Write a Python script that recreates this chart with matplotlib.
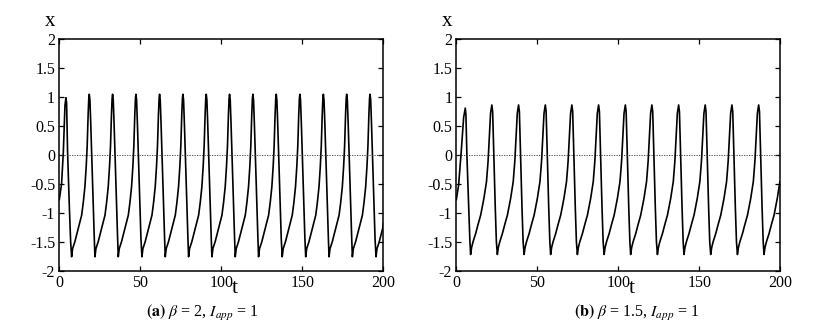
import matplotlib

matplotlib.use("Agg")

import matplotlib.pyplot as plt
import numpy as np

# panel (a): beta = 2
a_start_t = [0.0, 1.4, 2.5, 3.5, 4.1, 4.5, 5.1, 6.2, 7.0]
a_start_x = [-0.77, -0.50, 0.06, 0.86, 0.99, 0.90, 0.06, -0.90, -1.50]
a_trough_t = [7.6, 22.0, 36.4, 51.0, 65.4, 79.8, 94.2, 108.6, 123.0, 137.6, 152.1, 166.5, 180.9, 195.5]
a_cycle_dt = [0.0, 0.6, 2.0, 4.1, 6.2, 7.2, 8.2, 9.0, 9.6, 10.2, 10.6, 10.9, 11.3, 11.8, 12.4, 13.4, 14.0]
a_cycle_x = [-1.76, -1.62, -1.50, -1.27, -1.04, -0.82, -0.55, -0.20, 0.15, 0.70, 0.98, 1.05, 0.95, 0.55, 0.0, -0.90, -1.45]
a_end = (200.0, -1.18)

# panel (b): beta = 1.5
b_start_t = [0.0, 1.4, 3.0, 4.5, 5.5, 5.9, 6.5, 7.6, 8.3]
b_start_x = [-0.77, -0.52, 0.06, 0.65, 0.81, 0.70, 0.0, -0.90, -1.45]
b_trough_t = [8.8, 25.3, 41.8, 58.2, 74.7, 91.2, 107.6, 124.1, 140.5, 157.0, 173.5, 189.9]
b_cycle_dt = [0.0, 0.6, 1.5, 3.1, 4.6, 6.2, 8.2, 9.8, 10.8, 11.6, 12.3, 13.1, 13.6, 14.3, 15.2, 15.9]
b_cycle_x = [-1.72, -1.60, -1.50, -1.36, -1.20, -1.04, -0.75, -0.46, -0.10, 0.35, 0.72, 0.865, 0.75, 0.0, -0.90, -1.50]
b_end = (200.0, -0.49)

x_ticks = [0, 50, 100, 150, 200]
y_ticks = [-2, -1.5, -1, -0.5, 0, 0.5, 1, 1.5, 2]
captions = [r"$\mathbf{(a)}$ $\beta$ = 2, $I_{app}$ = 1", r"$\mathbf{(b)}$ $\beta$ = 1.5, $I_{app}$ = 1"]


def build_trace(start_t, start_x, troughs, cyc_dt, cyc_x, end):
    t = list(start_t)
    x = list(start_x)
    for t0 in troughs:
        for dt, v in zip(cyc_dt, cyc_x):
            if t0 + dt < end[0]:
                t.append(t0 + dt)
                x.append(v)
    t.append(end[0])
    x.append(end[1])
    return np.array(t), np.array(x)


def style_panel(ax, t, x):
    ax.plot(t, x, color="black", lw=1.2)
    ax.axhline(0, color="#333333", lw=0.6, ls=(0, (1.5, 1.5)))
    ax.set_xlim(0, 200)
    ax.set_ylim(-2, 2)
    ax.set_xticks(x_ticks)
    ax.set_yticks(y_ticks)
    ax.set_yticklabels([f"{v:g}" for v in y_ticks])
    ax.tick_params(direction="in", length=3.5, width=0.9, top=True, right=True, labelsize=11.5, pad=3)
    for s in ax.spines.values():
        s.set_linewidth(1.1)
    ax.text(0.542, -0.078, "t", transform=ax.transAxes, ha="center", va="center", fontsize=16)
    ax.text(-0.03, 1.075, "x", transform=ax.transAxes, ha="center", va="center", fontsize=15)


plt.rcParams.update(
    {
        "font.family": ["Liberation Serif", "DejaVu Serif"],
        "mathtext.fontset": "stix",
        "axes.unicode_minus": False,
    }
)

fig = plt.figure(figsize=(8.18, 3.33), dpi=100)
ax_a = fig.add_axes([0.0725, 0.1872, 0.3961, 0.6947])
ax_b = fig.add_axes([0.5579, 0.1872, 0.3961, 0.6947])

ta, xa = build_trace(a_start_t, a_start_x, a_trough_t, a_cycle_dt, a_cycle_x, a_end)
tb, xb = build_trace(b_start_t, b_start_x, b_trough_t, b_cycle_dt, b_cycle_x, b_end)
style_panel(ax_a, ta, xa)
style_panel(ax_b, tb, xb)

fig.text(202 / 818, 0.06, captions[0], ha="center", va="center", fontsize=11.5)
fig.text(637 / 818, 0.06, captions[1], ha="center", va="center", fontsize=11.5)

fig.savefig("out.png", dpi=100)
plt.close(fig)
